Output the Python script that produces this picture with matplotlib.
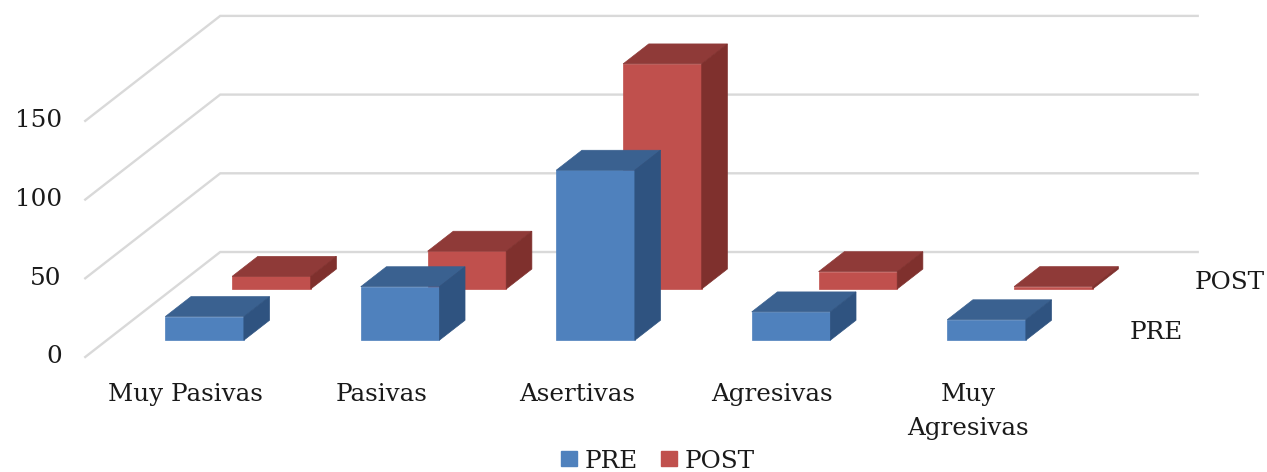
import matplotlib
matplotlib.use('Agg')
import matplotlib.pyplot as plt
from matplotlib.patches import Patch, Polygon

categories = ['Muy Pasivas', 'Pasivas', 'Asertivas', 'Agresivas', 'Muy\nAgresivas']
pre_values = [15, 34, 108, 18, 13]
post_values = [8, 24, 143, 11, 1.5]
ticks = [0, 50, 100, 150]

DEPTH_X = 0.6905   # shift of the floor depth in category units
DEPTH_Y = 66.7     # same in value units
BAR_WIDTH = 0.402
BAR_DEPTH = 0.19

plt.rcParams['font.family'] = ['DejaVu Serif']
TXT = '#1a1a1a'
FS = 17.7


def project(x, value, depth):
    """Oblique projection of a point in the chart box onto the flat axes."""
    return x + depth * DEPTH_X, value + depth * DEPTH_Y


def draw_bar(ax, x, value, depth, front, top, side, zorder):
    left, right = x - BAR_WIDTH / 2, x + BAR_WIDTH / 2
    d2 = depth + BAR_DEPTH
    ax.add_patch(Polygon([project(left, 0, depth), project(right, 0, depth),
                          project(right, value, depth), project(left, value, depth)],
                         facecolor=front, edgecolor=front, lw=0.5, zorder=zorder))
    ax.add_patch(Polygon([project(left, value, depth), project(right, value, depth),
                          project(right, value, d2), project(left, value, d2)],
                         facecolor=top, edgecolor=top, lw=0.5, zorder=zorder))
    ax.add_patch(Polygon([project(right, 0, depth), project(right, 0, d2),
                          project(right, value, d2), project(right, value, depth)],
                         facecolor=side, edgecolor=side, lw=0.5, zorder=zorder))


fig = plt.figure(figsize=(12.67, 4.72), dpi=100)
ax = fig.add_axes([0, 0, 1, 1])
ax.set_xlim(-0.936, 5.545)
ax.set_ylim(-73.06, 226.8)
ax.axis('off')

# walls
for t in ticks:
    xs, ys = zip(project(-0.5, t, 0), project(-0.5, t, 1), project(4.5, t, 1))
    ax.plot(xs, ys, color='#d9d9d9', lw=1.7, zorder=1, solid_joinstyle='miter')
    ax.text(-0.62, t, str(t), ha='right', va='center', fontsize=FS, color=TXT)

# back row first so the front row sits over it
for i, v in enumerate(post_values):
    draw_bar(ax, i + 0.005, v, 0.648, '#c0504d', '#8f3a38', '#7f302d', 2)
for i, v in enumerate(pre_values):
    draw_bar(ax, i, v, 0.16, '#4f81bd', '#3a6190', '#2f5380', 3)

for i, name in enumerate(categories):
    ax.text(i + 0.015, -16.5, name, ha='center', va='top', fontsize=FS, color=TXT,
            linespacing=1.6)

ax.text(4.977, 15.5, 'PRE', ha='center', va='center', fontsize=FS, color=TXT)
ax.text(5.355, 47.5, 'POST', ha='center', va='center', fontsize=FS, color=TXT)

handles = [Patch(color='#4f81bd', label='PRE'), Patch(color='#c0504d', label='POST')]
fig.legend(handles=handles, loc='center', bbox_to_anchor=(658 / 1267, 1 - 461 / 472), ncol=2,
           frameon=False, fontsize=FS, handlelength=0.66, handleheight=0.55,
           handletextpad=0.3, columnspacing=0.95, labelcolor=TXT, borderpad=0)

fig.savefig('out.png', dpi=100)
